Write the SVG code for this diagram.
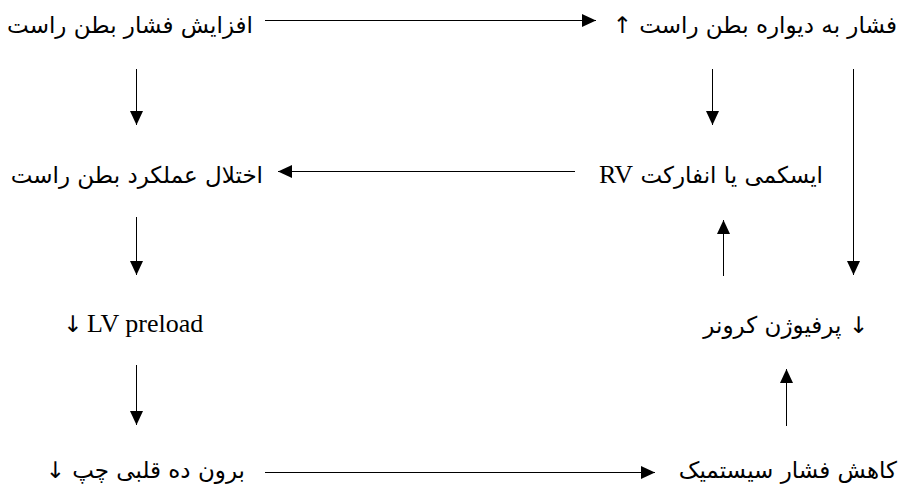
<svg xmlns="http://www.w3.org/2000/svg" width="905" height="495" viewBox="0 0 905 495">
  <defs>
    <marker id="head" viewBox="0 0 14 14" refX="14" refY="7" markerWidth="14" markerHeight="14" markerUnits="userSpaceOnUse" orient="auto">
      <path d="M0,0.5 L14,7 L0,13.5 Z" fill="#000"/>
    </marker>
    <style>
      .fa { font-family: "DejaVu Sans", sans-serif; font-size: 23px; fill: #000; }
      .lat { font-family: "Liberation Serif", "Times New Roman", serif; font-size: 26px; fill: #000; }
      .ln { stroke: #000; stroke-width: 1; fill: none; marker-end: url(#head); }
    </style>
  </defs>
  <rect width="905" height="495" fill="#fff"/>

  <g id="n-rv-pressure">
    <text class="fa" x="253" y="33" text-anchor="start" direction="rtl">افزایش فشار بطن راست</text>
  </g>
  <g id="n-wall-stress">
    <text class="fa" x="897" y="33" text-anchor="start" direction="rtl">فشار به دیواره بطن راست ↑</text>
  </g>
  <g id="n-rv-dysfunction">
    <text class="fa" x="263" y="183" text-anchor="start" direction="rtl">اختلال عملکرد بطن راست</text>
  </g>
  <g id="n-rv-ischemia">
    <text class="fa" x="823" y="183" text-anchor="start" direction="rtl">ایسکمی یا انفارکت <tspan class="lat">RV</tspan></text>
  </g>
  <g id="n-lv-preload">
    <text class="fa" x="63" y="332">↓</text>
    <text class="lat" x="87" y="332">LV preload</text>
  </g>
  <g id="n-coronary">
    <text class="fa" x="868" y="333" text-anchor="start" direction="rtl">↓ پرفیوژن کرونر</text>
  </g>
  <g id="n-lv-output">
    <text class="fa" x="245" y="478" text-anchor="start" direction="rtl">برون ده قلبی چپ ↓</text>
  </g>
  <g id="n-systemic">
    <text class="fa" x="897" y="478" text-anchor="start" direction="rtl">کاهش فشار سیستمیک</text>
  </g>

  <g id="connectors">
    <line class="ln" x1="265" y1="20.5" x2="596" y2="20.5"/>
    <line class="ln" x1="575" y1="171.5" x2="278" y2="171.5"/>
    <line class="ln" x1="265" y1="472.5" x2="655" y2="472.5"/>
    <line class="ln" x1="136.5" y1="69" x2="136.5" y2="125"/>
    <line class="ln" x1="136.5" y1="217" x2="136.5" y2="275"/>
    <line class="ln" x1="136.5" y1="365" x2="136.5" y2="425"/>
    <line class="ln" x1="712.5" y1="69" x2="712.5" y2="125"/>
    <line class="ln" x1="853.5" y1="69" x2="853.5" y2="275"/>
    <line class="ln" x1="723.5" y1="276" x2="723.5" y2="220"/>
    <line class="ln" x1="786.5" y1="426" x2="786.5" y2="369"/>
  </g>
</svg>
